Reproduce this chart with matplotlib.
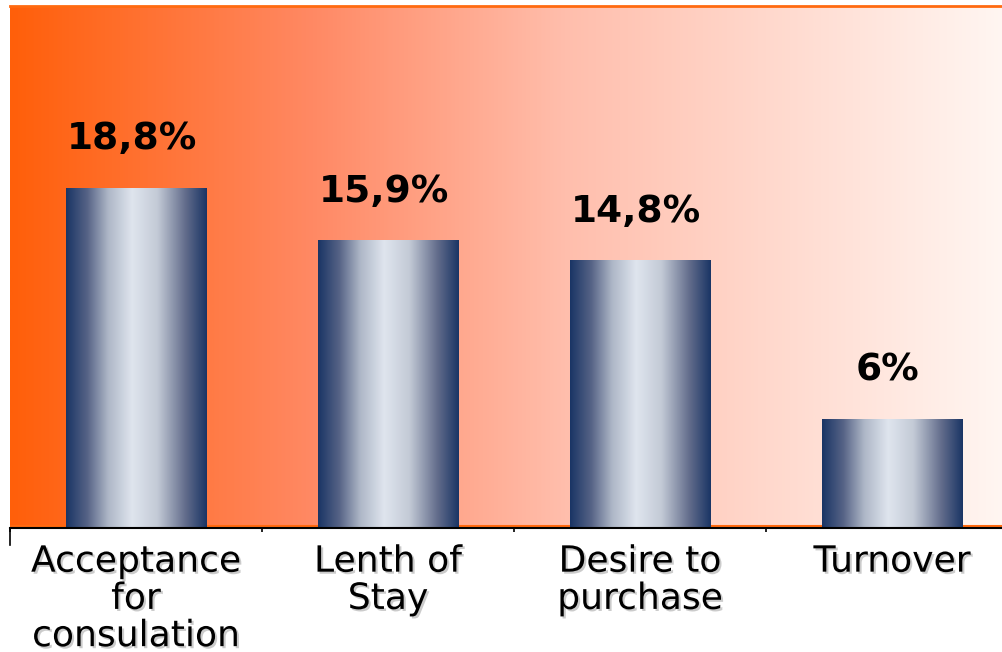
import numpy as np
import matplotlib
matplotlib.use("Agg")
import matplotlib.pyplot as plt
import matplotlib.patheffects as pe
from matplotlib.colors import LinearSegmentedColormap

categories = ["Acceptance\nfor\nconsulation", "Lenth of\nStay", "Desire to\npurchase", "Turnover"]
values = [18.8, 15.9, 14.8, 6.0]
value_labels = ["18,8%", "15,9%", "14,8%", "6%"]

W, H = 1002, 652
fig = plt.figure(figsize=(W / 100, H / 100), dpi=100)
# plot area runs past the right edge of the picture, as in the original
ax = fig.add_axes([10 / W, 124 / H, 1008 / W, 522 / H])
ax.set_xlim(-0.5, 3.5)
ax.set_ylim(0, 28.86)

# background gradient
bg = LinearSegmentedColormap.from_list("bg", [
    (0.0, (1.0, 95 / 255, 10 / 255)),
    (0.3, (1.0, 137 / 255, 100 / 255)),
    (0.55, (1.0, 190 / 255, 172 / 255)),
    (1.0, (1.0, 248 / 255, 244 / 255)),
])
ax.imshow(np.linspace(0, 1, 512)[None, :], cmap=bg, aspect="auto",
          extent=[-0.5, 3.5, 0, 28.86], zorder=0)

# bars with a metallic horizontal gradient
metal = LinearSegmentedColormap.from_list("metal", [
    (0.0, "#1a3565"), (0.15, "#566386"), (0.3, "#aeb7c7"), (0.47, "#dfe5ee"),
    (0.65, "#c3cad6"), (0.85, "#626c8b"), (1.0, "#1a3565"),
])
bars = ax.bar(range(len(values)), values, width=0.556, color="none", zorder=2)
for b in bars:
    x0, y0 = b.get_x(), b.get_y()
    im = ax.imshow(np.linspace(0, 1, 256)[None, :], cmap=metal, aspect="auto",
                   extent=[x0, x0 + b.get_width(), y0, y0 + b.get_height()], zorder=2)
    im.set_clip_path(b)

shadow = [pe.SimplePatchShadow(offset=(1.5, -1.5), shadow_rgbFace="0.6", alpha=0.5), pe.Normal()]

for b, lab in zip(bars, value_labels):
    ax.annotate(lab, (b.get_x() + b.get_width() / 2, b.get_height()),
                xytext=(-3, 22), textcoords="offset points", ha="center", va="bottom",
                fontsize=27, fontweight="bold", color="black", zorder=3)

ax.set_xticks(range(len(categories)))
ax.set_xticklabels(categories, fontsize=26, linespacing=1.12)
for t in ax.get_xticklabels():
    t.set_path_effects(shadow)
ax.tick_params(axis="x", which="major", length=0, pad=12)
ax.set_xticks([-0.5, 0.5, 1.5, 2.5], minor=True)
ax.tick_params(axis="x", which="minor", length=3, width=1.2, color="black")
ax.set_yticks([])
ax.plot([-0.5, -0.5], [0, -0.95], color="black", lw=1.2, clip_on=False, zorder=4)
ax.axhline(0.12, color="#ff6a10", lw=1.5, zorder=1)

for s in ["left", "right"]:
    ax.spines[s].set_visible(False)
ax.spines["top"].set_color("#ff6a10")
ax.spines["top"].set_linewidth(2)
ax.spines["bottom"].set_color("black")
ax.spines["bottom"].set_linewidth(1.5)

fig.savefig("out.png", dpi=100)
